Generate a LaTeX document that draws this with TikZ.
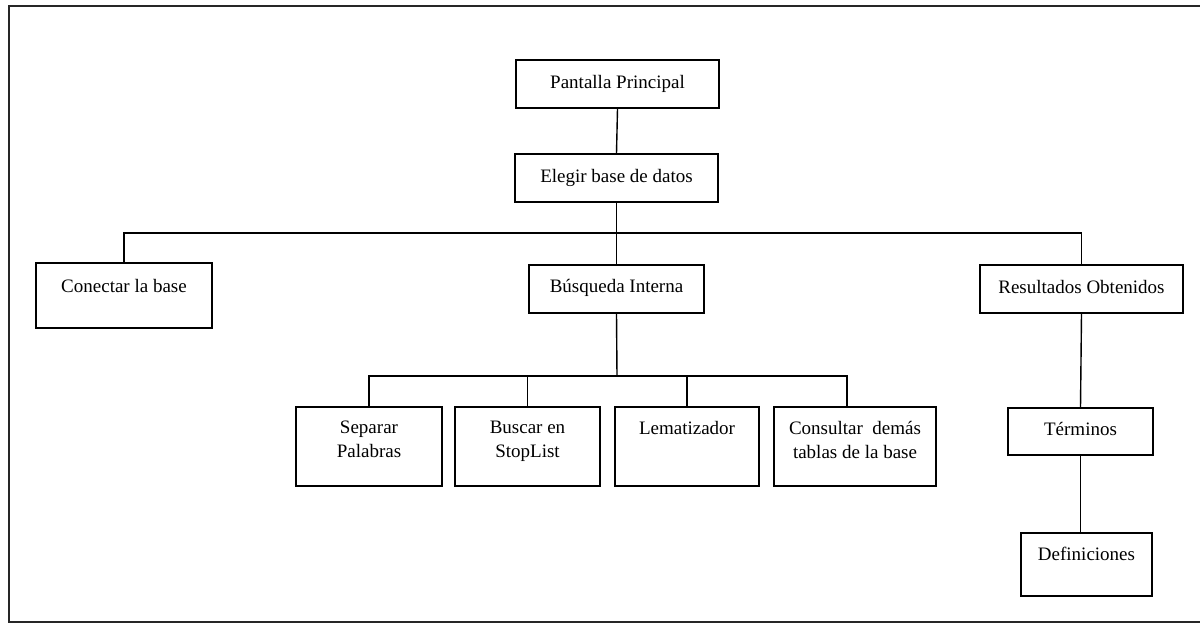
\documentclass[tikz,border=0pt]{standalone}
\usepackage{fontspec}
\setmainfont{Liberation Serif}
\begin{document}
\begin{tikzpicture}[x=1pt,y=-1pt,
  box/.style={draw=black, line width=1.5pt, rectangle, inner sep=0pt},
  txt/.style={inner sep=0pt, anchor=base, font=\fontsize{19}{23}\selectfont},
  wire/.style={draw=black, line width=1.4pt},
  frame/.style={draw=black!85, line width=1.6pt}]
\useasboundingbox (0,0) rectangle (1200,625);

% outer frame (open on the right)
\draw[frame] (1200,6) -- (9,6) -- (9,622) -- (1200,622);

% boxes
\node[box, minimum width=203pt, minimum height=48pt] (pp) at (617.5,84) {};
\node[box, minimum width=203pt, minimum height=48pt] (eb) at (616.5,178) {};
\node[box, minimum width=176pt, minimum height=65pt] (cb) at (124,295.5) {};
\node[box, minimum width=175pt, minimum height=48pt] (bi) at (616.5,289) {};
\node[box, minimum width=203pt, minimum height=48pt] (ro) at (1081.5,289) {};
\node[box, minimum width=146pt, minimum height=79pt] (sp) at (369,446.5) {};
\node[box, minimum width=145pt, minimum height=79pt] (bs) at (527.5,446.5) {};
\node[box, minimum width=144pt, minimum height=79pt] (le) at (687,446.5) {};
\node[box, minimum width=162pt, minimum height=79pt] (cd) at (855,446.5) {};
\node[box, minimum width=145pt, minimum height=47pt] (te) at (1080.5,431.5) {};
\node[box, minimum width=131pt, minimum height=63pt] (de) at (1086.5,564.5) {};

% labels
\node[txt] (pp-t) at (pp |- 0,88) {Pantalla Principal};
\node[txt] (eb-t) at (eb |- 0,182) {Elegir base de datos};
\node[txt] (cb-t) at (cb |- 0,292) {Conectar la base};
\node[txt] (bi-t) at (bi |- 0,292) {Búsqueda Interna};
\node[txt] (ro-t) at (ro |- 0,293) {Resultados Obtenidos};
\node[txt] (sp-t1) at (sp |- 0,433) {Separar};
\node[txt] (sp-t2) at (sp |- 0,457) {Palabras};
\node[txt] (bs-t1) at (bs |- 0,433) {Buscar en};
\node[txt] (bs-t2) at (bs |- 0,457) {StopList};
\node[txt] (le-t) at (le |- 0,434) {Lematizador};
\node[txt] (cd-t1) at (cd |- 0,434) {Consultar\ \ demás};
\node[txt] (cd-t2) at (cd |- 0,458) {tablas de la base};
\node[txt] (te-t) at (te |- 0,435) {Términos};
\node[txt] (de-t) at (de |- 0,560) {Definiciones};

% junctions
\coordinate (j1) at (617,233);
\coordinate (j2) at (617,376);
\coordinate (cdtop) at (847,408);

% connectors
\draw[wire] (pp.south) -- (eb.north);
\draw[wire] (eb.south) -- (bi.north);
\draw[wire] (cb.north) |- (j1) -| (ro.north);
\draw[wire] (bi.south) -- (j2);
\draw[wire] (sp.north) |- (j2) -| (cdtop);
\draw[wire] (bs.north) -- (bs |- j2);
\draw[wire] (le.north) -- (le |- j2);
\draw[wire] (ro.south) -- (te.north);
\draw[wire] (te.south) -- (te.south |- de.north);
\end{tikzpicture}
\end{document}
